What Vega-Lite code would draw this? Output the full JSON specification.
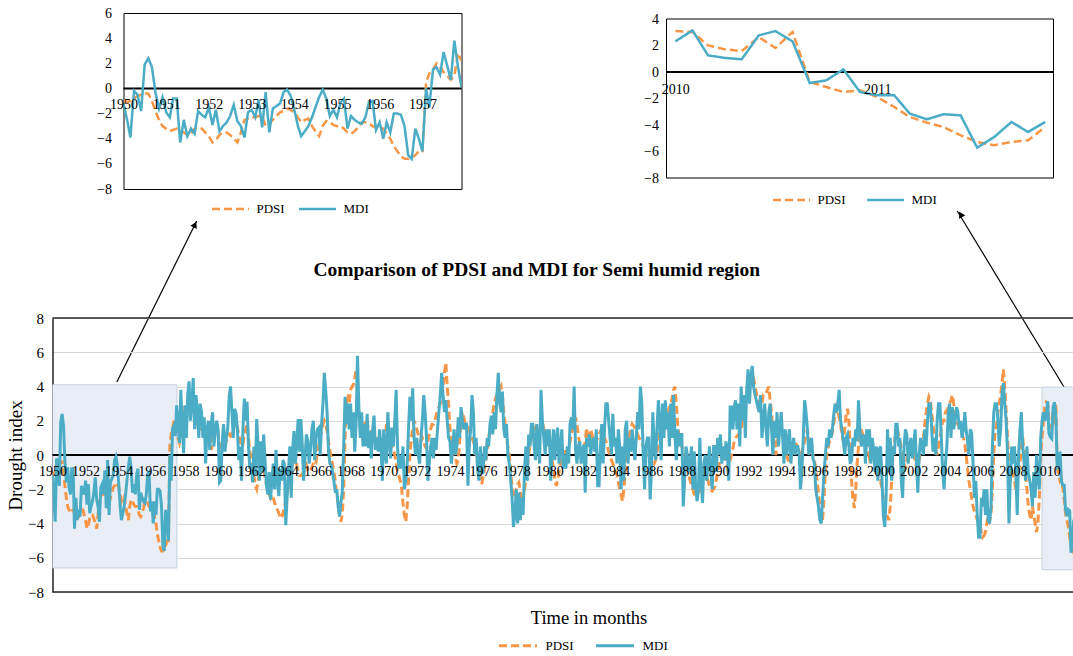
{
"$schema":"https://vega.github.io/schema/vega-lite/v6.json",
"padding":{"left":5.5,"top":5,"right":0,"bottom":0},
"background":"white",
"config":{"font":"Liberation Serif","view":{"stroke":null},"axis":{"labelFont":"Liberation Serif","titleFont":"Liberation Serif","labelColor":"black","titleColor":"black","titleFontWeight":"normal","ticks":false,"labelOverlap":false},"legend":{"labelFont":"Liberation Serif","labelColor":"black"},"title":{"font":"Liberation Serif","color":"black"}},
"data":{"values":"date,PDSI,MDI\n1950-01,-1.0,-1.2\n1950-02,-1.1,-2.5\n1950-03,-1.0,-3.9\n1950-04,-0.8,-0.2\n1950-05,-0.6,-0.5\n1950-06,-0.5,-1.8\n1950-07,-0.4,1.9\n1950-08,-0.4,2.4\n1950-09,-1.0,1.7\n1950-10,-1.8,-0.3\n1950-11,-2.5,-1.6\n1950-12,-3.0,-0.7\n1951-01,-3.2,-1.9\n1951-02,-3.4,-2.3\n1951-03,-3.3,-0.8\n1951-04,-3.2,-0.8\n1951-05,-3.4,-4.3\n1951-06,-3.5,-2.5\n1951-07,-3.7,-3.8\n1951-08,-3.6,-3.2\n1951-09,-3.2,-3.6\n1951-10,-3.1,-1.8\n1951-11,-3.2,-2.1\n1951-12,-3.5,-2.3\n1952-01,-3.8,-1.5\n1952-02,-4.3,-2.9\n1952-03,-4.1,-1.7\n1952-04,-3.7,-3.4\n1952-05,-3.5,-3.0\n1952-06,-3.5,-2.7\n1952-07,-3.7,-2.2\n1952-08,-4.0,-1.3\n1952-09,-4.3,-2.6\n1952-10,-3.5,-3.0\n1952-11,-2.5,-3.9\n1952-12,-2.4,-1.9\n1953-01,-2.3,-1.7\n1953-02,-2.3,-2.3\n1953-03,-2.2,-0.9\n1953-04,-2.2,-3.1\n1953-05,-3.0,-0.3\n1953-06,-2.8,-3.5\n1953-07,-2.5,-1.6\n1953-08,-2.2,-1.4\n1953-09,-1.9,-1.2\n1953-10,-1.8,-0.3\n1953-11,-1.6,-0.1\n1953-12,-1.7,-0.6\n1954-01,-1.9,-1.7\n1954-02,-2.3,-3.0\n1954-03,-2.7,-3.8\n1954-04,-2.5,-3.4\n1954-05,-2.4,-3.0\n1954-06,-3.0,-2.3\n1954-07,-3.4,-1.5\n1954-08,-3.8,-0.7\n1954-09,-3.0,-0.1\n1954-10,-2.6,-0.8\n1954-11,-2.7,-2.2\n1954-12,-2.9,-1.7\n1955-01,-3.0,-2.3\n1955-02,-3.0,-1.1\n1955-03,-3.2,-0.8\n1955-04,-3.5,-3.2\n1955-05,-3.6,-2.2\n1955-06,-3.4,-2.5\n1955-07,-3.1,-2.7\n1955-08,-2.7,-2.8\n1955-09,-2.7,-2.3\n1955-10,-2.8,-1.1\n1955-11,-3.0,-1.0\n1955-12,-3.1,-3.3\n1956-01,-3.1,-2.7\n1956-02,-3.2,-4.0\n1956-03,-3.6,-2.7\n1956-04,-4.0,-3.5\n1956-05,-4.6,-2.0\n1956-06,-5.0,-2.0\n1956-07,-5.4,-2.1\n1956-08,-5.6,-3.0\n1956-09,-5.6,-5.3\n1956-10,-5.5,-5.6\n1956-11,-5.3,-3.2\n1956-12,-5.0,-4.0\n1957-01,-5.0,-5.0\n1957-02,0.5,0.0\n1957-03,1.2,-1.5\n1957-04,1.5,1.5\n1957-05,2.0,1.7\n1957-06,1.7,1.1\n1957-07,1.3,2.9\n1957-08,1.0,1.8\n1957-09,0.7,0.7\n1957-10,1.0,3.8\n1957-11,2.8,1.7\n1957-12,2.2,0.1\n1958-01,1.8,2.9\n1958-02,2.0,1.0\n1958-03,3.0,3.5\n1958-04,3.7,4.3\n1958-05,3.2,2.0\n1958-06,2.8,3.0\n1958-07,3.0,4.5\n1958-08,2.5,1.5\n1958-09,2.0,3.5\n1958-10,1.8,2.5\n1958-11,1.6,1.0\n1958-12,1.5,3.0\n1959-01,1.5,2.5\n1959-02,1.3,1.0\n1959-03,1.2,2.2\n1959-04,1.0,-0.5\n1959-05,1.4,1.5\n1959-06,1.6,2.0\n1959-07,1.2,0.3\n1959-08,0.3,1.8\n1959-09,0.6,2.5\n1959-10,1.0,0.5\n1959-11,1.8,1.5\n1959-12,1.6,2.0\n1960-01,1.2,1.5\n1960-02,0.6,-1.6\n1960-03,0.5,-1.5\n1960-04,0.7,0.8\n1960-05,1.0,1.8\n1960-06,0.9,0.2\n1960-07,0.8,1.0\n1960-08,1.0,1.6\n1960-09,1.2,3.4\n1960-10,1.1,4.0\n1960-11,1.3,2.5\n1960-12,1.6,1.0\n1961-01,1.8,2.7\n1961-02,2.0,2.4\n1961-03,1.6,1.5\n1961-04,1.2,-0.3\n1961-05,0.8,0.5\n1961-06,0.5,-1.5\n1961-07,0.6,1.5\n1961-08,1.2,3.3\n1961-09,1.5,2.0\n1961-10,1.8,3.1\n1961-11,1.0,0.5\n1961-12,0.2,-0.8\n1962-01,-0.2,-0.5\n1962-02,-0.8,-1.6\n1962-03,-1.2,0.5\n1962-04,-1.8,-1.2\n1962-05,-2.0,2.1\n1962-06,-1.5,0.5\n1962-07,-1.0,-1.5\n1962-08,-0.5,0.8\n1962-09,-0.6,-1.0\n1962-10,-0.8,1.2\n1962-11,-1.3,-0.3\n1962-12,-1.7,-1.8\n1963-01,-2.0,-2.3\n1963-02,-2.3,-1.0\n1963-03,-2.5,-2.6\n1963-04,-2.3,-1.5\n1963-05,-2.5,-0.5\n1963-06,-2.8,-2.0\n1963-07,-3.0,0.3\n1963-08,-3.2,-1.5\n1963-09,-3.4,-2.4\n1963-10,-3.6,-0.8\n1963-11,-3.7,-1.5\n1963-12,-3.4,-0.3\n1964-01,-3.0,-0.5\n1964-02,-2.7,-4.1\n1964-03,-2.4,-2.5\n1964-04,-1.8,-1.0\n1964-05,-1.3,0.5\n1964-06,-0.8,-2.5\n1964-07,-0.5,0.3\n1964-08,-0.2,1.4\n1964-09,0.0,-0.5\n1964-10,-0.6,0.8\n1964-11,-1.0,2.1\n1964-12,-1.2,0.2\n1965-01,-1.2,2.1\n1965-02,-1.1,0.5\n1965-03,-1.0,-1.5\n1965-04,-0.8,-0.2\n1965-05,-0.6,1.2\n1965-06,-0.9,0.8\n1965-07,-1.0,-0.5\n1965-08,-0.9,0.3\n1965-09,-0.7,1.5\n1965-10,-0.5,2.0\n1965-11,-0.3,-0.3\n1965-12,-0.4,1.0\n1966-01,0.2,1.5\n1966-02,0.6,1.6\n1966-03,1.0,0.0\n1966-04,1.5,1.8\n1966-05,1.8,3.0\n1966-06,2.0,4.8\n1966-07,1.8,3.8\n1966-08,1.4,2.5\n1966-09,0.8,0.2\n1966-10,0.3,-0.5\n1966-11,-0.2,-0.6\n1966-12,-0.6,-1.0\n1967-01,-1.0,-1.6\n1967-02,-1.6,-2.2\n1967-03,-2.2,-2.0\n1967-04,-2.8,-3.0\n1967-05,-3.5,-3.6\n1967-06,-3.9,-2.8\n1967-07,-3.5,-2.2\n1967-08,-2.0,0.5\n1967-09,1.0,3.4\n1967-10,3.0,1.8\n1967-11,3.3,3.0\n1967-12,3.0,1.5\n1968-01,3.8,3.0\n1968-02,4.0,1.0\n1968-03,4.1,2.5\n1968-04,4.5,0.2\n1968-05,5.0,1.8\n1968-06,3.8,5.8\n1968-07,2.5,2.8\n1968-08,2.0,1.0\n1968-09,1.8,2.5\n1968-10,1.6,0.5\n1968-11,1.8,1.8\n1968-12,1.9,0.5\n1969-01,1.8,2.4\n1969-02,1.6,0.4\n1969-03,1.5,1.4\n1969-04,1.3,-0.2\n1969-05,1.2,1.5\n1969-06,1.3,2.3\n1969-07,1.2,0.3\n1969-08,1.0,1.0\n1969-09,0.8,0.2\n1969-10,0.6,1.5\n1969-11,0.5,0.6\n1969-12,0.2,-1.5\n1970-01,0.5,1.5\n1970-02,1.0,0.2\n1970-03,1.8,-0.5\n1970-04,1.5,2.5\n1970-05,1.0,1.0\n1970-06,0.8,-0.2\n1970-07,0.5,1.6\n1970-08,0.3,0.5\n1970-09,0.0,2.0\n1970-10,-0.5,3.8\n1970-11,-1.0,0.5\n1970-12,-1.2,-0.8\n1971-01,-1.5,0.0\n1971-02,-2.0,-0.8\n1971-03,-2.8,0.5\n1971-04,-3.5,-2.0\n1971-05,-3.9,-1.5\n1971-06,-3.0,-0.5\n1971-07,-1.5,1.5\n1971-08,0.0,3.4\n1971-09,1.0,2.0\n1971-10,1.5,3.9\n1971-11,2.0,1.0\n1971-12,1.8,0.0\n1972-01,1.5,1.0\n1972-02,1.2,0.0\n1972-03,1.0,-0.5\n1972-04,0.8,1.0\n1972-05,1.0,2.0\n1972-06,0.8,3.5\n1972-07,0.5,2.5\n1972-08,0.4,1.0\n1972-09,0.8,-1.5\n1972-10,1.2,-0.5\n1972-11,1.5,0.5\n1972-12,1.8,1.0\n1973-01,1.8,-0.2\n1973-02,2.0,1.0\n1973-03,2.3,0.3\n1973-04,2.6,1.5\n1973-05,2.8,2.5\n1973-06,3.0,3.5\n1973-07,3.5,4.8\n1973-08,4.0,3.5\n1973-09,4.8,2.5\n1973-10,5.4,3.2\n1973-11,4.0,2.0\n1973-12,3.0,1.0\n1974-01,1.5,0.8\n1974-02,1.0,-0.5\n1974-03,0.6,0.4\n1974-04,0.2,1.5\n1974-05,-0.2,0.0\n1974-06,-0.5,0.5\n1974-07,-0.3,2.2\n1974-08,0.8,1.0\n1974-09,2.0,2.8\n1974-10,2.5,2.0\n1974-11,2.2,1.5\n1974-12,1.8,1.8\n1975-01,1.8,1.8\n1975-02,1.6,-1.8\n1975-03,1.4,0.5\n1975-04,1.2,1.5\n1975-05,1.0,3.5\n1975-06,0.8,2.5\n1975-07,0.5,0.0\n1975-08,0.0,1.0\n1975-09,-0.5,-0.8\n1975-10,-1.0,-1.5\n1975-11,-1.3,0.5\n1975-12,-1.7,-1.0\n1976-01,-1.3,-1.0\n1976-02,-0.8,0.5\n1976-03,-0.3,-0.3\n1976-04,0.3,1.0\n1976-05,1.0,0.5\n1976-06,1.5,1.8\n1976-07,2.0,2.3\n1976-08,2.5,1.2\n1976-09,3.0,2.5\n1976-10,3.3,1.5\n1976-11,3.5,3.5\n1976-12,3.8,4.8\n1977-01,3.8,3.0\n1977-02,4.0,2.5\n1977-03,3.5,3.7\n1977-04,2.5,1.5\n1977-05,1.8,1.0\n1977-06,1.0,1.8\n1977-07,0.5,0.0\n1977-08,0.0,-0.5\n1977-09,-1.0,-1.5\n1977-10,-1.8,-2.5\n1977-11,-2.5,-4.2\n1977-12,-2.5,-3.5\n1978-01,-2.0,-2.0\n1978-02,-1.7,-4.0\n1978-03,-1.6,-2.2\n1978-04,-2.2,-3.8\n1978-05,-2.8,-2.5\n1978-06,-2.5,-3.5\n1978-07,-2.0,-1.0\n1978-08,-1.5,0.5\n1978-09,-0.8,-1.5\n1978-10,0.0,1.2\n1978-11,0.6,0.5\n1978-12,1.0,1.8\n1979-01,1.2,1.8\n1979-02,1.5,0.5\n1979-03,1.6,-0.3\n1979-04,1.8,1.8\n1979-05,1.5,0.5\n1979-06,1.2,-0.5\n1979-07,1.5,3.8\n1979-08,2.0,2.0\n1979-09,1.5,1.0\n1979-10,1.2,0.0\n1979-11,1.0,1.5\n1979-12,0.8,0.5\n1980-01,0.6,1.5\n1980-02,0.2,-1.5\n1980-03,-0.3,0.3\n1980-04,-0.8,1.5\n1980-05,-1.4,-0.3\n1980-06,-1.8,1.0\n1980-07,-1.5,1.6\n1980-08,-1.0,-0.5\n1980-09,-0.5,0.5\n1980-10,-0.3,1.5\n1980-11,0.0,-0.8\n1980-12,0.2,0.0\n1981-01,0.2,-0.8\n1981-02,0.3,0.5\n1981-03,0.5,-0.5\n1981-04,0.8,1.8\n1981-05,1.2,2.2\n1981-06,1.5,1.5\n1981-07,1.8,4.0\n1981-08,2.2,0.3\n1981-09,1.8,-0.5\n1981-10,1.2,0.5\n1981-11,0.6,0.8\n1981-12,0.3,-0.5\n1982-01,0.0,0.3\n1982-02,0.3,0.6\n1982-03,0.8,-2.2\n1982-04,1.6,1.0\n1982-05,1.0,0.5\n1982-06,0.5,1.2\n1982-07,1.5,0.0\n1982-08,1.2,0.8\n1982-09,0.6,1.0\n1982-10,0.3,0.2\n1982-11,0.8,1.5\n1982-12,1.0,-1.8\n1983-01,1.2,-1.8\n1983-02,1.4,0.5\n1983-03,1.5,1.8\n1983-04,1.3,-0.5\n1983-05,1.0,1.5\n1983-06,0.8,3.0\n1983-07,0.5,3.0\n1983-08,0.2,2.0\n1983-09,0.0,1.0\n1983-10,-0.3,0.0\n1983-11,-0.5,2.4\n1983-12,-0.8,0.5\n1984-01,-1.0,1.0\n1984-02,-1.2,-0.5\n1984-03,-1.6,1.5\n1984-04,-2.0,0.5\n1984-05,-2.3,-2.0\n1984-06,-2.7,0.5\n1984-07,-2.0,-1.5\n1984-08,-1.0,1.5\n1984-09,0.0,2.0\n1984-10,0.8,-0.5\n1984-11,1.2,1.0\n1984-12,1.5,0.2\n1985-01,1.8,1.5\n1985-02,1.7,0.5\n1985-03,1.6,-0.3\n1985-04,1.4,1.0\n1985-05,1.2,2.5\n1985-06,1.0,1.5\n1985-07,0.9,4.0\n1985-08,0.7,3.0\n1985-09,0.5,0.0\n1985-10,0.4,-2.0\n1985-11,0.2,0.5\n1985-12,0.0,1.0\n1986-01,0.0,1.0\n1986-02,-0.2,-2.6\n1986-03,-0.3,-1.0\n1986-04,-0.4,2.5\n1986-05,-0.5,0.5\n1986-06,-0.3,-0.3\n1986-07,0.0,1.5\n1986-08,0.8,3.2\n1986-09,1.5,2.0\n1986-10,2.0,-0.3\n1986-11,2.2,3.0\n1986-12,2.0,1.0\n1987-01,2.0,3.2\n1987-02,2.2,1.5\n1987-03,2.5,2.5\n1987-04,2.8,0.5\n1987-05,3.0,3.0\n1987-06,3.3,1.0\n1987-07,3.8,3.5\n1987-08,4.0,1.2\n1987-09,3.0,-0.3\n1987-10,1.8,1.5\n1987-11,1.0,0.5\n1987-12,0.8,1.2\n1988-01,0.5,1.2\n1988-02,0.2,-3.0\n1988-03,0.0,-1.5\n1988-04,-0.3,0.5\n1988-05,-0.8,0.0\n1988-06,-1.2,-1.0\n1988-07,-1.5,-0.5\n1988-08,-1.8,0.5\n1988-09,-2.0,-2.0\n1988-10,-2.3,0.2\n1988-11,-2.4,-1.8\n1988-12,-2.3,-2.7\n1989-01,-2.2,-2.0\n1989-02,-2.0,1.0\n1989-03,-1.5,-1.5\n1989-04,-1.0,-2.8\n1989-05,-0.8,-0.5\n1989-06,-1.0,0.0\n1989-07,-1.3,-1.5\n1989-08,-1.5,-0.5\n1989-09,-1.8,0.5\n1989-10,-2.0,-1.0\n1989-11,-2.1,-2.0\n1989-12,-2.0,0.5\n1990-01,-1.8,0.5\n1990-02,-1.4,-1.0\n1990-03,-1.0,1.0\n1990-04,-0.6,0.0\n1990-05,-0.2,1.2\n1990-06,0.0,-0.5\n1990-07,0.3,0.5\n1990-08,0.0,-0.3\n1990-09,-0.4,0.8\n1990-10,-0.8,0.0\n1990-11,-0.6,-1.5\n1990-12,-0.3,2.8\n1991-01,0.0,2.8\n1991-02,0.4,1.5\n1991-03,0.8,2.8\n1991-04,1.0,3.2\n1991-05,1.1,1.5\n1991-06,1.2,3.0\n1991-07,1.3,0.5\n1991-08,1.5,4.0\n1991-09,2.0,2.0\n1991-10,2.5,3.5\n1991-11,3.0,1.0\n1991-12,3.5,3.8\n1992-01,4.0,5.0\n1992-02,4.3,3.0\n1992-03,4.5,4.5\n1992-04,4.8,5.2\n1992-05,4.5,4.0\n1992-06,4.0,3.5\n1992-07,3.6,3.2\n1992-08,3.2,2.8\n1992-09,3.0,2.5\n1992-10,2.8,3.5\n1992-11,3.0,1.0\n1992-12,3.5,2.0\n1993-01,3.5,3.0\n1993-02,3.6,1.5\n1993-03,3.8,0.5\n1993-04,4.0,2.5\n1993-05,3.2,3.0\n1993-06,2.5,1.5\n1993-07,1.5,0.0\n1993-08,0.8,2.0\n1993-09,0.0,1.0\n1993-10,0.5,2.5\n1993-11,1.5,0.5\n1993-12,2.0,1.5\n1994-01,1.5,2.5\n1994-02,1.2,1.0\n1994-03,0.8,-0.5\n1994-04,0.3,1.5\n1994-05,0.0,0.0\n1994-06,-0.3,0.8\n1994-07,-0.5,1.5\n1994-08,0.0,-0.5\n1994-09,0.5,0.5\n1994-10,0.8,1.0\n1994-11,0.8,0.0\n1994-12,0.6,0.5\n1995-01,0.4,0.5\n1995-02,0.2,0.0\n1995-03,0.0,-2.0\n1995-04,0.2,-1.0\n1995-05,0.5,1.0\n1995-06,0.8,3.2\n1995-07,1.2,2.5\n1995-08,1.5,1.5\n1995-09,1.0,0.0\n1995-10,0.5,0.5\n1995-11,0.2,1.0\n1995-12,0.0,-0.2\n1996-01,-0.3,-0.5\n1996-02,-0.8,-2.0\n1996-03,-1.5,-2.5\n1996-04,-2.2,-3.0\n1996-05,-3.0,-3.8\n1996-06,-3.5,-4.0\n1996-07,-3.8,-2.5\n1996-08,-2.5,-1.0\n1996-09,-1.0,0.0\n1996-10,0.0,1.0\n1996-11,0.5,0.5\n1996-12,0.8,1.5\n1997-01,1.0,1.0\n1997-02,1.3,1.5\n1997-03,1.8,2.3\n1997-04,2.3,3.0\n1997-05,2.8,2.5\n1997-06,2.6,3.0\n1997-07,2.2,3.8\n1997-08,1.8,2.0\n1997-09,1.2,1.5\n1997-10,0.8,0.8\n1997-11,1.5,0.0\n1997-12,2.3,1.0\n1998-01,2.7,1.2\n1998-02,2.0,0.5\n1998-03,0.5,-0.5\n1998-04,-1.5,-0.3\n1998-05,-2.6,1.0\n1998-06,-3.1,0.5\n1998-07,-2.0,1.5\n1998-08,-0.5,0.8\n1998-09,0.5,3.2\n1998-10,1.0,1.5\n1998-11,1.5,0.5\n1998-12,1.2,1.0\n1999-01,1.0,1.2\n1999-02,0.8,-0.5\n1999-03,0.5,1.5\n1999-04,0.2,0.5\n1999-05,-0.2,1.5\n1999-06,0.0,-0.5\n1999-07,0.3,1.0\n1999-08,0.0,0.3\n1999-09,-0.5,-1.0\n1999-10,-1.0,0.5\n1999-11,-1.2,-1.5\n1999-12,-1.5,0.3\n2000-01,-1.5,0.5\n2000-02,-2.0,-1.5\n2000-03,-2.5,-3.5\n2000-04,-3.0,-4.2\n2000-05,-3.3,-2.5\n2000-06,-3.6,1.5\n2000-07,-3.8,-1.0\n2000-08,-3.0,1.0\n2000-09,-1.5,-1.5\n2000-10,0.0,0.5\n2000-11,0.8,0.0\n2000-12,1.2,1.8\n2001-01,1.5,1.8\n2001-02,1.2,0.5\n2001-03,0.8,1.0\n2001-04,0.3,-1.5\n2001-05,0.0,-2.5\n2001-06,-0.5,0.5\n2001-07,-0.8,1.5\n2001-08,-0.3,1.2\n2001-09,0.3,-0.5\n2001-10,0.5,0.5\n2001-11,0.3,1.0\n2001-12,0.0,-0.2\n2002-01,0.0,0.5\n2002-02,-0.3,1.5\n2002-03,-0.8,-0.5\n2002-04,-0.8,-2.2\n2002-05,-0.3,0.0\n2002-06,0.3,1.0\n2002-07,0.5,0.5\n2002-08,1.0,0.0\n2002-09,1.8,1.5\n2002-10,2.5,0.5\n2002-11,3.0,2.0\n2002-12,3.4,3.0\n2003-01,3.2,3.0\n2003-02,2.5,1.5\n2003-03,1.8,0.2\n2003-04,1.0,1.0\n2003-05,0.3,0.0\n2003-06,0.0,2.0\n2003-07,0.5,3.0\n2003-08,1.0,3.0\n2003-09,1.5,1.0\n2003-10,2.0,-1.0\n2003-11,2.0,-2.0\n2003-12,2.5,-0.5\n2004-01,2.6,0.5\n2004-02,2.8,2.5\n2004-03,3.0,3.0\n2004-04,3.2,1.0\n2004-05,3.5,2.8\n2004-06,3.0,1.5\n2004-07,2.5,2.0\n2004-08,2.0,2.8\n2004-09,1.8,2.5\n2004-10,1.6,1.5\n2004-11,1.4,2.0\n2004-12,1.2,1.0\n2005-01,1.0,1.5\n2005-02,0.6,2.5\n2005-03,0.0,1.5\n2005-04,-0.8,0.8\n2005-05,-1.5,0.0\n2005-06,-2.0,1.5\n2005-07,-2.5,1.3\n2005-08,-3.0,-0.5\n2005-09,-3.3,-2.5\n2005-10,-3.5,-1.5\n2005-11,-3.8,-3.5\n2005-12,-4.0,-4.8\n2006-01,-4.0,-4.8\n2006-02,-4.5,-2.5\n2006-03,-4.8,-3.0\n2006-04,-4.7,-2.0\n2006-05,-4.5,-3.5\n2006-06,-4.0,-2.0\n2006-07,-3.5,-3.8\n2006-08,-3.8,-4.0\n2006-09,-3.5,-3.0\n2006-10,-2.0,0.5\n2006-11,0.0,2.5\n2006-12,1.5,3.0\n2007-01,1.8,3.0\n2007-02,2.5,2.0\n2007-03,3.0,0.5\n2007-04,3.5,1.5\n2007-05,4.2,3.5\n2007-06,5.0,4.2\n2007-07,4.0,3.0\n2007-08,2.5,2.0\n2007-09,1.0,0.0\n2007-10,-0.5,-4.0\n2007-11,-1.2,-1.5\n2007-12,-1.0,0.5\n2008-01,-1.2,-0.5\n2008-02,-1.5,0.5\n2008-03,-2.0,-1.0\n2008-04,-1.5,-3.5\n2008-05,-1.0,0.0\n2008-06,-0.5,1.5\n2008-07,0.5,2.5\n2008-08,1.0,0.5\n2008-09,0.0,-0.5\n2008-10,-1.0,-1.5\n2008-11,-2.0,0.5\n2008-12,-3.0,-1.0\n2009-01,-3.5,-1.5\n2009-02,-3.8,-2.0\n2009-03,-3.0,-3.0\n2009-04,-3.5,-1.0\n2009-05,-4.0,-2.5\n2009-06,-4.5,0.0\n2009-07,-4.0,-1.5\n2009-08,-2.5,-2.0\n2009-09,0.0,1.0\n2009-10,1.0,2.0\n2009-11,2.0,2.5\n2009-12,2.8,2.0\n2010-01,3.09,2.31\n2010-02,3.02,3.14\n2010-03,2.01,1.26\n2010-04,1.71,1.06\n2010-05,1.58,0.96\n2010-06,2.64,2.77\n2010-07,1.81,3.09\n2010-08,3.02,2.31\n2010-09,-0.75,-0.83\n2010-10,-1.13,-0.63\n2010-11,-1.51,0.2\n2010-12,-1.38,-1.51\n2011-01,-1.89,-1.76\n2011-02,-2.64,-1.76\n2011-03,-3.4,-3.14\n2011-04,-3.82,-3.57\n2011-05,-4.15,-3.19\n2011-06,-4.78,-3.27\n2011-07,-5.28,-5.71\n2011-08,-5.53,-4.9\n2011-09,-5.28,-3.77\n2011-10,-5.16,-4.53\n2011-11,-4.15,-3.77","format":{"type":"csv","parse":{"date":"date","PDSI":"number","MDI":"number"}}},
"bounds":"flush",
"spacing":305,
"resolve":{"scale":{"color":"independent","strokeDash":"independent"},"legend":{"color":"independent","strokeDash":"independent"}},
"vconcat":[
 {"bounds":"flush","spacing":0,
  "resolve":{"scale":{"color":"independent","strokeDash":"independent"},"legend":{"color":"independent","strokeDash":"independent"}},
  "hconcat":[
   {"width":70.2,"height":1,"data":{"values":[]},"mark":"point"},
   {"width":338,"height":176,"view":{"stroke":"black","strokeWidth":1},
    "layer":[
     {"data":{"values":[{}]},"mark":{"type":"rule","color":"black","strokeWidth":2},"encoding":{"y":{"datum":0,"type":"quantitative"}}},
     {"transform":[{"filter":"utcyear(datum.date) <= 1957"},{"fold":["PDSI","MDI"],"as":["series","value"]}],
      "mark":{"type":"line","strokeWidth":2.5,"clip":true},
      "encoding":{
       "x":{"field":"date","type":"temporal","scale":{"type":"utc","domain":[{"year":1950,"month":1,"date":1,"utc":true},{"year":1957,"month":12,"date":1,"utc":true}]},"axis":{"format":"%Y","formatType":"utc","tickCount":{"interval":"year","step":1},"offset":-100.6,"domain":false,"grid":false,"labelFontSize":14,"labelPadding":9,"title":null,"labelFlush":false,"labelOverlap":false,"zindex":1}},
       "y":{"field":"value","type":"quantitative","scale":{"domain":[-8,6],"nice":false},"axis":{"values":[-8,-6,-4,-2,0,2,4,6],"tickCount":20,"format":"d","domain":false,"grid":false,"labelFontSize":14,"labelPadding":12,"labelOverlap":false,"title":null}},
       "color":{"field":"series","type":"nominal","scale":{"domain":["PDSI","MDI"],"range":["#F79646","#4BACC6"]},"legend":{"title":null,"orient":"none","legendX":87,"legendY":176,"direction":"horizontal","symbolType":"stroke","symbolSize":1369,"symbolStrokeWidth":2.5,"labelFontSize":13,"labelOffset":6,"columnPadding":8,"encode":{"symbols":{"update":{"strokeDash":{"signal":"datum.value === 'PDSI' ? [8, 4] : [1, 0]"}}}}}},
       "strokeDash":{"field":"series","type":"nominal","scale":{"domain":["PDSI","MDI"],"range":[[8,4],[1,0]]},"legend":null}
      }},
     {"data":{"values":[{"from":"1949-11-05","to":"1951-09-19","low":-23.35,"high":-10.55}]},
      "mark":{"type":"rule","color":"black","strokeWidth":1.2},
      "encoding":{"x":{"field":"from","type":"temporal"},"x2":{"field":"to"},"y":{"field":"low","type":"quantitative"},"y2":{"field":"high"}}},
     {"data":{"values":[{"at":"1951-09-04","v":-10.83}]},
      "mark":{"type":"point","shape":"triangle-up","filled":true,"color":"black","size":50,"angle":26,"opacity":1},
      "encoding":{"x":{"field":"at","type":"temporal"},"y":{"field":"v","type":"quantitative"}}}
    ]},
   {"width":204.3,"height":1,"data":{"values":[]},"mark":"point"},
   {"width":387,"height":165,
    "layer":[
     {"data":{"values":[{}]},"mark":{"type":"rule","color":"black","strokeWidth":2},"encoding":{"y":{"datum":0,"type":"quantitative"}}},
     {"data":{"values":[{}]},"mark":{"type":"rule","color":"black","strokeWidth":1},"encoding":{"y":{"datum":4,"type":"quantitative"}}},
     {"data":{"values":[{}]},"mark":{"type":"rule","color":"black","strokeWidth":1},"encoding":{"y":{"datum":-8,"type":"quantitative"}}},
     {"data":{"values":[{"edge":"2009-12-16"},{"edge":"2011-11-16"}]},"mark":{"type":"rule","color":"black","strokeWidth":1},"encoding":{"x":{"field":"edge","type":"temporal"},"y":{"datum":4,"type":"quantitative"},"y2":{"datum":-8}}},
     {"transform":[{"filter":"utcyear(datum.date) >= 2010"},{"fold":["PDSI","MDI"],"as":["series","value"]}],
      "mark":{"type":"line","strokeWidth":2.5,"clip":true},
      "encoding":{
       "x":{"field":"date","type":"temporal","scale":{"type":"utc","domain":[{"year":2009,"month":12,"date":16,"utc":true},{"year":2011,"month":11,"date":16,"utc":true}]},"axis":{"format":"%Y","formatType":"utc","tickCount":{"interval":"year","step":1},"offset":-106,"domain":false,"grid":false,"labelFontSize":14,"labelPadding":10,"title":null,"labelFlush":false,"labelOverlap":false,"zindex":1}},
       "y":{"field":"value","type":"quantitative","scale":{"domain":[-8,4.453],"nice":false},"axis":{"values":[-8,-6,-4,-2,0,2,4],"tickCount":20,"format":"d","domain":false,"grid":false,"labelFontSize":14,"labelPadding":8,"labelOverlap":false,"title":null}},
       "color":{"field":"series","type":"nominal","scale":{"domain":["PDSI","MDI"],"range":["#F79646","#4BACC6"]},"legend":{"title":null,"orient":"none","legendX":105,"legendY":167,"direction":"horizontal","symbolType":"stroke","symbolSize":1369,"symbolStrokeWidth":2.5,"labelFontSize":13,"labelOffset":6,"columnPadding":15,"encode":{"symbols":{"update":{"strokeDash":{"signal":"datum.value === 'PDSI' ? [8, 4] : [1, 0]"}}}}}},
       "strokeDash":{"field":"series","type":"nominal","scale":{"domain":["PDSI","MDI"],"range":[[8,4],[1,0]]},"legend":null}
      }},
     {"data":{"values":[{"from":"2011-12-05","to":"2011-05-26","low":-23.77,"high":-10.49}]},
      "mark":{"type":"rule","color":"black","strokeWidth":1.2},
      "encoding":{"x":{"field":"from","type":"temporal"},"x2":{"field":"to"},"y":{"field":"low","type":"quantitative"},"y2":{"field":"high"}}},
     {"data":{"values":[{"at":"2011-06-01","v":-10.75}]},
      "mark":{"type":"point","shape":"triangle-up","filled":true,"color":"black","size":50,"angle":329,"opacity":1},
      "encoding":{"x":{"field":"at","type":"temporal"},"y":{"field":"v","type":"quantitative"}}}
    ]}
  ]},
 {"width":1020.5,"height":274,
  "title":{"text":"Comparison of PDSI and MDI for Semi humid region","fontSize":19.5,"fontWeight":"bold","frame":"group","anchor":"middle","dx":-26,"offset":22,"baseline":"middle"},
  "layer":[
   {"data":{"values":[{"start":"1950-01-01","end":"1957-07-08","top":4.1,"bottom":-6.6},{"start":"2009-10-01","end":"2012-01-01","top":3.97,"bottom":-6.7}]},
    "mark":{"type":"rect","fill":"#E9EEF6","stroke":"#C6D0E0","strokeWidth":1,"clip":true},
    "encoding":{"x":{"field":"start","type":"temporal"},"x2":{"field":"end"},"y":{"field":"top","type":"quantitative"},"y2":{"field":"bottom"}}},
   {"data":{"values":[{}]},"mark":{"type":"rule","color":"black","strokeWidth":2},"encoding":{"y":{"datum":0,"type":"quantitative"}}},
   {"data":{"values":[{"edge":8},{"edge":-8}]},"mark":{"type":"rule","color":"#262626","strokeWidth":1.3},"encoding":{"y":{"field":"edge","type":"quantitative"}}},
   {"transform":[{"fold":["PDSI","MDI"],"as":["series","value"]}],
    "mark":{"type":"line","strokeWidth":3,"clip":true},
    "encoding":{
     "x":{"field":"date","type":"temporal","scale":{"type":"utc","domain":[{"year":1950,"month":1,"date":1,"utc":true},{"year":2011,"month":8,"date":14,"utc":true}]},"axis":{"format":"%Y","formatType":"utc","tickCount":{"interval":"year","step":2},"offset":-137,"domain":false,"grid":false,"labelFontSize":14,"labelPadding":9,"labelFlush":false,"labelOverlap":false,"zindex":1,"title":"Time in months","titleFontSize":18.5,"titleX":536,"titleY":162,"titleBaseline":"middle"}},
     "y":{"field":"value","type":"quantitative","scale":{"domain":[-8,8],"nice":false},"axis":{"values":[-8,-6,-4,-2,0,2,4,6,8],"tickCount":20,"format":"d","grid":true,"gridColor":"#D9D9D9","gridWidth":1,"domain":true,"domainColor":"black","domainWidth":1.3,"labelFontSize":15,"labelPadding":9,"labelOverlap":false,"title":"Drought index","titleFontSize":19,"titleX":-37.5,"titleBaseline":"middle"}},
     "color":{"field":"series","type":"nominal","scale":{"domain":["PDSI","MDI"],"range":["#F79646","#4BACC6"]},"legend":{"title":null,"orient":"none","legendX":445,"legendY":307,"direction":"horizontal","symbolType":"stroke","symbolSize":1444,"symbolStrokeWidth":3,"labelFontSize":13,"labelOffset":7,"columnPadding":15,"encode":{"symbols":{"update":{"strokeDash":{"signal":"datum.value === 'PDSI' ? [8, 4] : [1, 0]"}}}}}},
     "strokeDash":{"field":"series","type":"nominal","scale":{"domain":["PDSI","MDI"],"range":[[8,4],[1,0]]},"legend":null}
    }}
  ]}
]
}
